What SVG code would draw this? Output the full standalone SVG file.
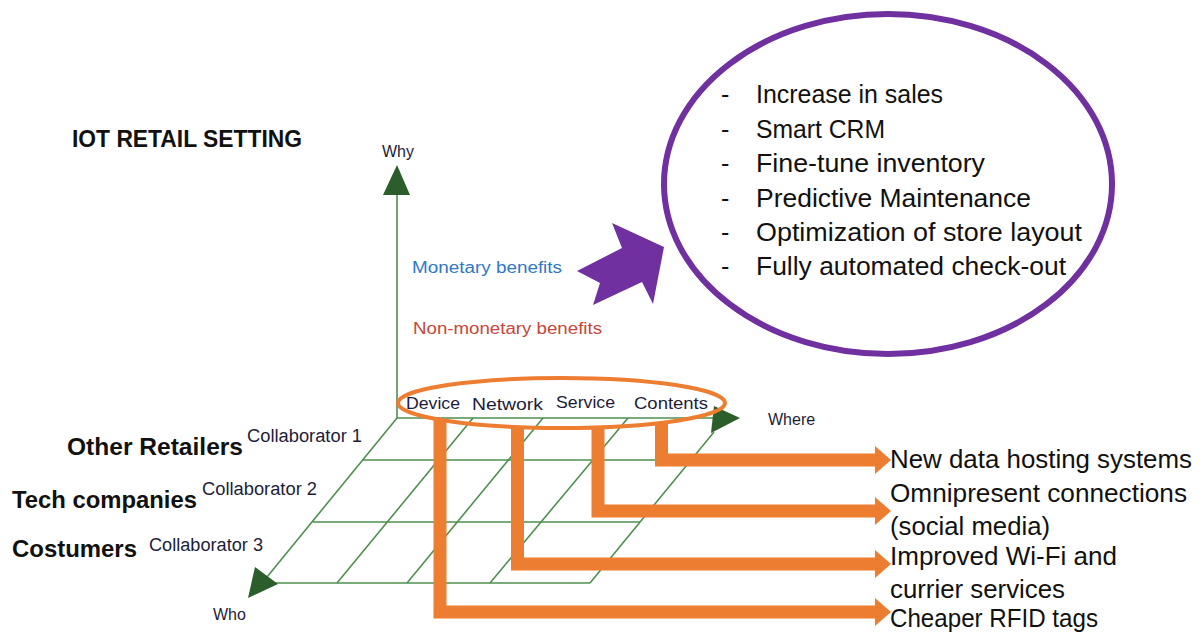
<svg xmlns="http://www.w3.org/2000/svg" width="1204" height="633" viewBox="0 0 1204 633">
  <style>
    text { font-family: "Liberation Sans", Arial, sans-serif; fill: #111; }
    .title { font-size: 23px; font-weight: bold; }
    .who { font-size: 24px; font-weight: bold; }
    .collab { font-size: 18px; fill: #1d1d3a; }
    .axis { font-size: 16px; fill: #1d1d3a; }
    .layer { font-size: 17px; fill: #1d1d3a; }
    .benefit { font-size: 25px; }
    .outcome { font-size: 25px; }
    .grid { stroke: #4f8f4f; stroke-width: 1.6; fill: none; }
    .axishead { fill: #2b5e2b; }
    .bar { stroke: #ed7d31; stroke-width: 13; fill: none; stroke-linejoin: miter; stroke-linecap: butt; }
    .barhead { fill: #ed7d31; }
  </style>

  <!-- heading -->
  <g id="title">
    <text class="title" x="72" y="147" textLength="230" lengthAdjust="spacingAndGlyphs">IOT RETAIL SETTING</text>
  </g>

  <!-- three-axis frame: why / who / where, with collaborator grid -->
  <g id="axes">
    <line class="grid" x1="397" y1="192" x2="397" y2="418"/>
    <polygon class="axishead" points="397,165 383,195 410,195"/>
    <text class="axis" x="382" y="157">Why</text>

    <!-- grid rows -->
    <line class="grid" x1="397" y1="418" x2="714" y2="418"/>
    <line class="grid" x1="363" y1="460" x2="690" y2="460"/>
    <line class="grid" x1="313" y1="522" x2="640" y2="522"/>
    <line class="grid" x1="270" y1="583" x2="590" y2="583"/>
    <!-- grid columns -->
    <line class="grid" x1="397" y1="418" x2="258" y2="588"/>
    <line class="grid" x1="473" y1="418" x2="337" y2="583"/>
    <line class="grid" x1="543" y1="418" x2="407" y2="583"/>
    <line class="grid" x1="628" y1="418" x2="490" y2="583"/>
    <line class="grid" x1="714" y1="432" x2="590" y2="583"/>

    <polygon class="axishead" points="714,406 740,418 711,433"/>
    <polygon class="axishead" points="255,567 278,584 248,598"/>
    <text class="axis" x="768" y="425">Where</text>
    <text class="axis" x="213" y="620">Who</text>
  </g>

  <!-- collaborators along the who axis -->
  <g id="collaborators">
    <text class="who" x="67" y="455" textLength="176" lengthAdjust="spacingAndGlyphs">Other Retailers</text>
    <text class="collab" x="247" y="442" textLength="115" lengthAdjust="spacingAndGlyphs">Collaborator 1</text>
    <text class="who" x="12" y="508" textLength="185" lengthAdjust="spacingAndGlyphs">Tech companies</text>
    <text class="collab" x="202" y="495" textLength="115" lengthAdjust="spacingAndGlyphs">Collaborator 2</text>
    <text class="who" x="12" y="557" textLength="125" lengthAdjust="spacingAndGlyphs">Costumers</text>
    <text class="collab" x="149" y="551" textLength="114" lengthAdjust="spacingAndGlyphs">Collaborator 3</text>
  </g>

  <!-- benefit labels on the why axis -->
  <g id="benefits">
    <text x="412" y="273" style="font-size:16px; fill:#2f78c4" textLength="150" lengthAdjust="spacingAndGlyphs">Monetary benefits</text>
    <text x="413" y="334" style="font-size:16px; fill:#c8463a" textLength="189" lengthAdjust="spacingAndGlyphs">Non-monetary benefits</text>
  </g>

  <!-- connectors: layer bars to outcomes, and the benefit arrow -->
  <g id="connectors">
    <path class="bar" d="M661.5,422 V460 H876"/>
    <polygon class="barhead" points="875,446 891,460 875,474"/>
    <path class="bar" d="M598,428 V511 H876"/>
    <polygon class="barhead" points="875,497 891,511 875,525"/>
    <path class="bar" d="M517.5,427 V564 H876"/>
    <polygon class="barhead" points="875,550 891,564 875,578"/>
    <path class="bar" d="M440,420 V612 H876"/>
    <polygon class="barhead" points="875,598 891,612 875,626"/>

    <polygon fill="#7030a0" points="577,271 622,248 612,223 664,247 653,304 642,282 593,305 600,283"/>
  </g>

  <!-- IoT layers -->
  <g id="layers">
    <ellipse cx="561.5" cy="403" rx="163.5" ry="25" fill="none" stroke="#ed7d31" stroke-width="4"/>
    <text class="layer" x="406" y="409" textLength="54" lengthAdjust="spacingAndGlyphs">Device</text>
    <text class="layer" x="472" y="410" textLength="71" lengthAdjust="spacingAndGlyphs">Network</text>
    <text class="layer" x="556" y="408" textLength="59" lengthAdjust="spacingAndGlyphs">Service</text>
    <text class="layer" x="634" y="409" textLength="74" lengthAdjust="spacingAndGlyphs">Contents</text>
  </g>

  <!-- monetary benefit list -->
  <g id="benefit-list">
    <ellipse cx="888" cy="184" rx="224" ry="170" fill="none" stroke="#7030a0" stroke-width="6"/>
    <g class="benefit">
      <text class="benefit" x="721" y="103">-</text>
      <text class="benefit" x="756" y="103" textLength="187" lengthAdjust="spacingAndGlyphs">Increase in sales</text>
      <text class="benefit" x="721" y="137.5">-</text>
      <text class="benefit" x="756" y="137.5" textLength="129" lengthAdjust="spacingAndGlyphs">Smart CRM</text>
      <text class="benefit" x="721" y="172">-</text>
      <text class="benefit" x="756" y="172" textLength="229" lengthAdjust="spacingAndGlyphs">Fine-tune inventory</text>
      <text class="benefit" x="721" y="206.5">-</text>
      <text class="benefit" x="756" y="206.5" textLength="275" lengthAdjust="spacingAndGlyphs">Predictive Maintenance</text>
      <text class="benefit" x="721" y="241">-</text>
      <text class="benefit" x="756" y="241" textLength="326" lengthAdjust="spacingAndGlyphs">Optimization of store layout</text>
      <text class="benefit" x="721" y="275">-</text>
      <text class="benefit" x="756" y="275" textLength="310" lengthAdjust="spacingAndGlyphs">Fully automated check-out</text>
    </g>
  </g>

  <!-- enabling outcomes -->
  <g id="outcome-contents">
    <text class="outcome" x="890" y="468" textLength="302" lengthAdjust="spacingAndGlyphs">New data hosting systems</text>
  </g>
  <g id="outcome-service">
    <text class="outcome" x="890" y="502" textLength="297" lengthAdjust="spacingAndGlyphs">Omnipresent connections</text>
    <text class="outcome" x="890" y="535" textLength="160" lengthAdjust="spacingAndGlyphs">(social media)</text>
  </g>
  <g id="outcome-network">
    <text class="outcome" x="890" y="565" textLength="227" lengthAdjust="spacingAndGlyphs">Improved Wi-Fi and</text>
    <text class="outcome" x="890" y="598" textLength="175" lengthAdjust="spacingAndGlyphs">currier services</text>
  </g>
  <g id="outcome-device">
    <text class="outcome" x="890" y="627" textLength="208" lengthAdjust="spacingAndGlyphs">Cheaper RFID tags</text>
  </g>
</svg>
